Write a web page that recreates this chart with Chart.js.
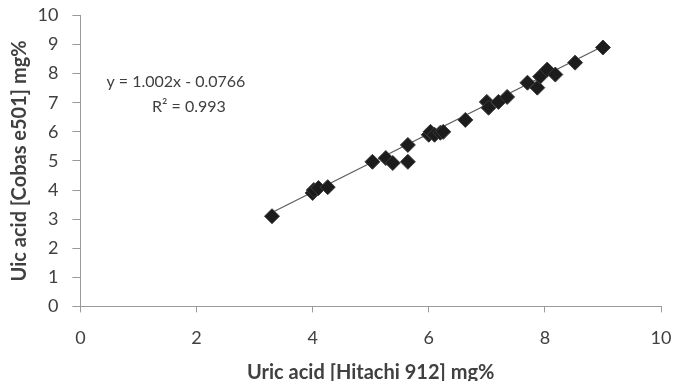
<!DOCTYPE html>
<html>
<head>
<meta charset="utf-8">
<script src="https://cdn.jsdelivr.net/npm/chart.js@4/dist/chart.umd.min.js"></script>
<style>
  html, body { margin: 0; padding: 0; background: #ffffff; }
  #wrap { width: 673px; height: 381px; }
</style>
</head>
<body>
<div id="wrap"><canvas id="uric-chart" width="673" height="381"></canvas></div>
<script>
// Hitachi 912 (x) vs Cobas e501 (y), mg%
const hitachi = [3.3, 4.0, 4.02, 4.1, 4.26, 5.03, 5.26, 5.38, 5.64, 5.64, 6.0, 6.03, 6.1, 6.2, 6.25, 6.63, 7.0, 7.03, 7.2, 7.35, 7.7, 7.87, 7.92, 8.04, 8.18, 8.52, 9.0];
const cobas = [3.1, 3.9, 4.0, 4.07, 4.1, 4.97, 5.1, 4.93, 5.55, 4.97, 5.9, 6.0, 5.9, 5.97, 6.0, 6.41, 7.03, 6.83, 7.03, 7.2, 7.69, 7.52, 7.9, 8.14, 7.97, 8.38, 8.9];

// trendline ends (as drawn, from first to last sample)
const trendX = [3.3, 9.0];
const trendY = [3.23, 8.94];

const axisTicks = [0, 1, 2, 3, 4, 5, 6, 7, 8, 9, 10];
const equationText = "y = 1.002x - 0.0766";
const r2Text = "R² = 0.993";

const points = hitachi.map((x, i) => ({ x: x, y: cobas[i] }));
const trend = trendX.map((x, i) => ({ x: x, y: trendY[i] }));

const labelColor = "#404040";
const axisColor = "#9a9a9a";
const fontFamily = "Lato, 'Open Sans', sans-serif";

// equation text, placed in data coordinates
const equationPlugin = {
  id: "equation",
  afterDatasetsDraw(chart) {
    const ctx = chart.ctx;
    const xs = chart.scales.x;
    const ys = chart.scales.y;
    ctx.save();
    ctx.fillStyle = labelColor;
    ctx.font = "16px " + fontFamily;
    ctx.textBaseline = "middle";
    ctx.textAlign = "left";
    ctx.fillText(equationText, xs.getPixelForValue(0.45), ys.getPixelForValue(7.72));
    ctx.textAlign = "center";
    ctx.fillText(r2Text, xs.getPixelForValue(1.87), ys.getPixelForValue(6.86));
    ctx.restore();
  },
};

new Chart(document.getElementById("uric-chart"), {
  type: "scatter",
  data: {
    datasets: [
      {
        label: "Trend",
        type: "line",
        data: trend,
        borderColor: "#5a5a5a",
        borderWidth: 1.2,
        pointRadius: 0,
        fill: false,
        order: 2,
      },
      {
        label: "Uric acid",
        data: points,
        pointStyle: "rectRot",
        pointRadius: 7.5,
        pointHoverRadius: 7.5,
        backgroundColor: "#1c1c1c",
        borderColor: "#3a3a3a",
        borderWidth: 1,
        order: 1,
      },
    ],
  },
  options: {
    responsive: false,
    animation: false,
    events: [],
    layout: {
      autoPadding: false,
      padding: { top: 15.5, right: 12, bottom: -1, left: 7.5 },
    },
    scales: {
      x: {
        type: "linear",
        min: 0,
        max: 10,
        afterBuildTicks: (axis) => {
          axis.ticks = axisTicks.filter((v) => v % 2 === 0).map((v) => ({ value: v }));
        },
        afterFit: (axis) => {
          axis.paddingRight = 0;
        },
        grid: {
          display: true,
          drawOnChartArea: false,
          drawTicks: true,
          tickLength: 6,
          color: axisColor,
        },
        border: { display: true, color: axisColor, width: 1 },
        ticks: {
          color: labelColor,
          font: { family: fontFamily, size: 18 },
          padding: 15,
        },
        title: {
          display: true,
          text: "Uric acid [Hitachi 912] mg%",
          color: labelColor,
          font: { family: fontFamily, size: 20, weight: "bold" },
          padding: { top: -3, bottom: -3 },
        },
      },
      y: {
        type: "linear",
        min: 0,
        max: 10,
        afterBuildTicks: (axis) => {
          axis.ticks = axisTicks.map((v) => ({ value: v }));
        },
        afterFit: (axis) => {
          axis.paddingTop = 0;
        },
        grid: {
          display: true,
          drawOnChartArea: false,
          drawTicks: true,
          tickLength: 8,
          color: axisColor,
        },
        border: { display: true, color: axisColor, width: 1 },
        ticks: {
          color: labelColor,
          font: { family: fontFamily, size: 18 },
          padding: 14,
        },
        title: {
          display: true,
          text: "Uic acid [Cobas e501] mg%",
          color: labelColor,
          font: { family: fontFamily, size: 20, weight: "bold" },
          padding: { top: 0, bottom: -8 },
        },
      },
    },
    plugins: {
      legend: { display: false },
      tooltip: { enabled: false },
      title: { display: false },
    },
  },
  plugins: [equationPlugin],
});
</script>
</body>
</html>
